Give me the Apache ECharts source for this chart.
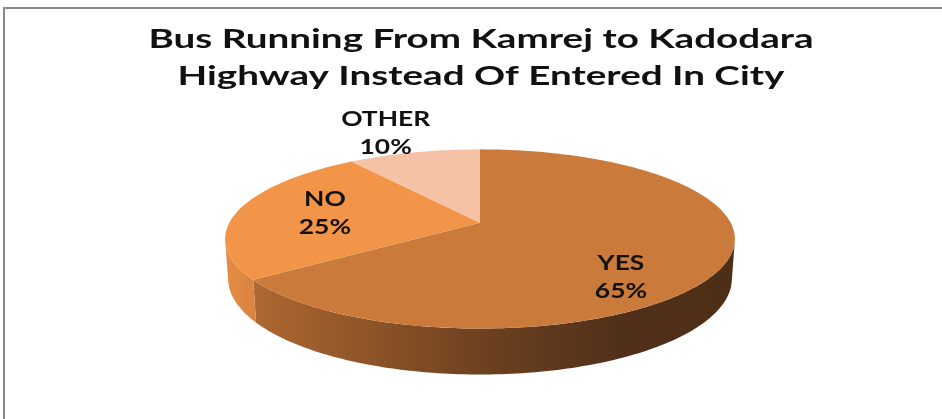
<!DOCTYPE html>
<html>
<head>
<meta charset="utf-8">
<script src="https://cdn.jsdelivr.net/npm/echarts@6/dist/echarts.min.js"></script>
<style>
  html, body { margin: 0; padding: 0; background: #fff; }
  #main { width: 942px; height: 419px; }
</style>
</head>
<body>
<div id="main"></div>
<script>
// chart data
var categories = ['YES', 'NO', 'OTHER'];
var values = [65, 25, 10];

// look of each slice (top face, side gradient, label nudge in px)
var topColors = ['#CA7A3A', '#F29548', '#F6C2A6'];
var sideStops = [
  [{offset: 0, color: '#BA713A'}, {offset: 0.1, color: '#A8642F'}, {offset: 0.5, color: '#6E4120'}, {offset: 0.78, color: '#50301A'}, {offset: 1, color: '#4E2E14'}],
  [{offset: 0, color: '#E58C44'}, {offset: 0.06, color: '#D8843F'}, {offset: 1, color: '#D8843F'}],
  [{offset: 0, color: '#F6C2A6'}, {offset: 1, color: '#F6C2A6'}]
];
var labelNudge = [[0, 30], [-9, -1], [-12, -2]];

// simple perspective camera for the 3d disc
var TILT = 20.7 * Math.PI / 180;
var DIST = 5.19;
var HEIGHT = 0.172;
var STRETCH = 1.32;   // the text in the picture is drawn wide

var total = values.reduce(function (a, b) { return a + b; }, 0);

// disc point (angle clockwise from 12 o'clock, radius, drop below top) -> axis units
function project(deg, r, drop) {
  var t = deg * Math.PI / 180;
  var X = r * Math.sin(t), Z = r * Math.cos(t), Y = -drop;
  var yc = Y * Math.cos(TILT) + Z * Math.sin(TILT);
  var zc = DIST + Z * Math.cos(TILT) - Y * Math.sin(TILT);
  return [X * DIST / zc, yc * DIST / zc];
}

function renderSlice(params, api) {
  var i = params.dataIndex;
  var before = 0;
  for (var k = 0; k < i; k++) before += values[k];
  var a0 = before / total * 360;
  var a1 = (before + values[i]) / total * 360;

  function pt(deg, r, drop) { return api.coord(project(deg, r, drop)); }

  var children = [];

  // side wall, only the part facing the camera
  var edge = Math.acos(-1 / (DIST * Math.cos(TILT))) * 180 / Math.PI;
  var s0 = Math.max(a0, edge), s1 = Math.min(a1, 360 - edge);
  if (s1 > s0) {
    var side = [];
    for (var d = s0; d < s1; d += 1) side.push(pt(d, 1, 0));
    side.push(pt(s1, 1, 0));
    for (var d2 = s1; d2 > s0; d2 -= 1) side.push(pt(d2, 1, HEIGHT));
    side.push(pt(s0, 1, HEIGHT));
    var L = pt(360 - edge, 1, 0), R = pt(edge, 1, 0);
    children.push({
      type: 'polygon',
      shape: {points: side},
      style: {fill: new echarts.graphic.LinearGradient(L[0], 0, R[0], 0, sideStops[i], true)}
    });
  }

  // top face
  var top = [pt(0, 0, 0)];
  for (var d3 = a0; d3 < a1; d3 += 1) top.push(pt(d3, 1, 0));
  top.push(pt(a1, 1, 0));
  children.push({
    type: 'polygon',
    shape: {points: top},
    style: {fill: topColors[i]}
  });

  // label: inside for big slices, just outside for small ones
  var share = values[i] / total;
  var lp = pt((a0 + a1) / 2, share < 0.15 ? 1.3 : 0.6, 0);
  children.push({
    type: 'text',
    x: lp[0] + labelNudge[i][0], y: lp[1] + labelNudge[i][1],
    scaleX: STRETCH,
    z2: 10,
    style: {
      text: categories[i] + '\n' + Math.round(share * 100) + '%',
      fill: '#111',
      fontFamily: 'Lato',
      fontWeight: 'bold',
      fontSize: 20,
      lineHeight: 28,
      align: 'center',
      verticalAlign: 'middle'
    }
  });

  return {type: 'group', children: children};
}

var SCALE = 250.7; // px per disc radius
var chart = echarts.init(document.getElementById('main'));
chart.setOption({
  animation: false,
  grid: {left: 480 - 1.2 * SCALE, width: 2.4 * SCALE, top: 225 - 0.4 * SCALE, height: 1.2 * SCALE},
  xAxis: {type: 'value', min: -1.2, max: 1.2, show: false},
  yAxis: {type: 'value', min: -0.8, max: 0.4, show: false},
  graphic: [
    {
      type: 'polyline',
      shape: {points: [[4, 430], [4, 8], [950, 8]]},
      style: {stroke: '#8A8A8A', lineWidth: 2, fill: null}
    },
    {
      type: 'text',
      x: 481, y: 58,
      scaleX: 1.43,
      style: {
        text: 'Bus Running From Kamrej to Kadodara\nHighway Instead Of Entered In City',
        fill: '#111',
        fontFamily: 'Lato',
        fontWeight: 'bold',
        fontSize: 27,
        lineHeight: 37,
        align: 'center',
        verticalAlign: 'middle'
      }
    }
  ],
  series: [{
    type: 'custom',
    coordinateSystem: 'cartesian2d',
    renderItem: renderSlice,
    data: values.map(function (v, i) { return {name: categories[i], value: [0, 0, v]}; })
  }]
});
</script>
</body>
</html>
